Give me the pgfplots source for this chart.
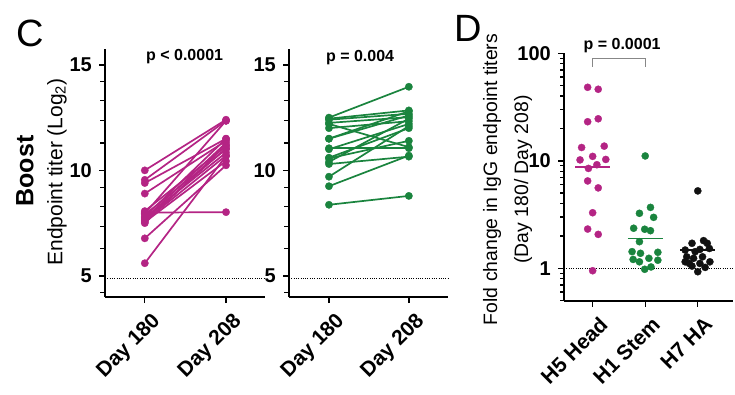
\documentclass[border=0pt]{standalone}
\usepackage{pgfplots}
\pgfplotsset{compat=1.18}
\usepackage{fontspec}
\setmainfont{Liberation Sans}
\definecolor{cpink}{RGB}{180,36,132}
\definecolor{cgreen}{RGB}{26,132,62}
\definecolor{cblack}{RGB}{17,17,17}
\definecolor{cbrack}{RGB}{135,135,135}
\begin{document}
\begin{tikzpicture}[x=1pt,y=1pt]
\path[use as bounding box] (0,0) rectangle (735,394);
\pgfplotsset{
  cstyle/.style={
    scale only axis,
    axis lines=left,
    axis line style={-, line width=1.7pt},
    tick align=outside,
    major tick length=6pt,
    minor tick length=5pt,
    every tick/.style={line width=1.4pt, black},
    every minor tick/.style={line width=1.4pt, black},
    y tick label style={font=\fontsize{20}{22}\selectfont\bfseries, inner sep=1pt, xshift=-6pt},
    x tick label style={rotate=45, anchor=north east, font=\fontsize{21}{23}\selectfont\bfseries, inner sep=1pt, yshift=-9pt, xshift=-1pt},
    /pgf/number format/assume math mode=true,
    clip=false,
  },
  pinkline/.style={cpink, line width=1.7pt, mark=*, mark size=3.7pt, mark options={solid, fill=cpink, draw=cpink, line width=0.3pt}},
  greenline/.style={cgreen, line width=1.7pt, mark=*, mark size=3.7pt, mark options={solid, fill=cgreen, draw=cgreen, line width=0.3pt}},
  dotline/.style={black, line width=1pt, dash pattern=on 1pt off 1.3pt},
  dots/.style={only marks, mark=*, mark size=3.6pt, color=#1, mark options={solid, fill=#1, draw=#1, line width=0.3pt}},
}
% Panel labels and titles
\node[anchor=base west, font=\fontsize{38}{40}\selectfont] at (13,347) {C};
\node[anchor=base west, font=\fontsize{38}{40}\selectfont] at (451,352) {D};
\node[rotate=90, font=\fontsize{25}{28}\selectfont\bfseries] at (25,223) {Boost};
\node[rotate=90, font=\fontsize{21}{24}\selectfont] at (57,222) {Endpoint titer (Log\textsubscript{2})};
\node[rotate=90, align=center, font=\fontsize{19.4}{31}\selectfont] at (507.5,214.5) {Fold change in IgG endpoint titers\\(Day 180/ Day 208)};

% Panel C left (pink)
\begin{axis}[cstyle, at={(105pt,97pt)}, anchor=south west, width=160pt, height=248pt,
  xmin=-0.49, xmax=1.48, ymin=4, ymax=15.75,
  xtick={0,1}, xticklabels={Day 180, Day 208},
  ytick={5,10,15}, minor ytick={4.2,6.3,7.35,8.3,9.2,11.3,12.35,13.3,14.2}]
\addplot[dotline] coordinates {(-0.49,4.9) (1.48,4.9)};
\addplot[pinkline] coordinates {(0,10.0) (1,12.4)};
\addplot[pinkline] coordinates {(0,9.55) (1,12.35)};
\addplot[pinkline] coordinates {(0,9.4) (1,11.5)};
\addplot[pinkline] coordinates {(0,8.9) (1,11.4)};
\addplot[pinkline] coordinates {(0,8.07) (1,11.15)};
\addplot[pinkline] coordinates {(0,8.0) (1,8.02)};
\addplot[pinkline] coordinates {(0,7.95) (1,12.35)};
\addplot[pinkline] coordinates {(0,7.9) (1,11.0)};
\addplot[pinkline] coordinates {(0,7.8) (1,11.5)};
\addplot[pinkline] coordinates {(0,7.75) (1,10.84)};
\addplot[pinkline] coordinates {(0,7.7) (1,11.3)};
\addplot[pinkline] coordinates {(0,7.6) (1,10.7)};
\addplot[pinkline] coordinates {(0,7.55) (1,10.44)};
\addplot[pinkline] coordinates {(0,7.5) (1,11.2)};
\addplot[pinkline] coordinates {(0,6.78) (1,10.24)};
\addplot[pinkline] coordinates {(0,5.6) (1,10.68)};
\addplot[pinkline] coordinates {(0,7.65) (1,11.05)};
\node[font=\fontsize{16}{18}\selectfont\bfseries] at (axis cs:0.49,15.38) {p < 0.0001};
\end{axis}

% Panel C right (green)
\begin{axis}[cstyle, at={(289pt,97pt)}, anchor=south west, width=159pt, height=248pt,
  xmin=-0.5, xmax=1.49, ymin=4, ymax=15.75,
  xtick={0,1}, xticklabels={Day 180, Day 208},
  ytick={5,10,15}, minor ytick={4.2,6.3,7.35,8.3,9.2,11.3,12.35,13.3,14.2}]
\addplot[dotline] coordinates {(-0.5,4.9) (1.49,4.9)};
\addplot[greenline] coordinates {(0,12.5) (1,13.96)};
\addplot[greenline] coordinates {(0,12.45) (1,12.84)};
\addplot[greenline] coordinates {(0,12.4) (1,12.68)};
\addplot[greenline] coordinates {(0,12.25) (1,12.52)};
\addplot[greenline] coordinates {(0,12.0) (1,12.33)};
\addplot[greenline] coordinates {(0,11.5) (1,12.6)};
\addplot[greenline] coordinates {(0,11.05) (1,11.05)};
\addplot[greenline] coordinates {(0,11.0) (1,12.2)};
\addplot[greenline] coordinates {(0,10.57) (1,11.4)};
\addplot[greenline] coordinates {(0,10.4) (1,12.45)};
\addplot[greenline] coordinates {(0,10.3) (1,10.65)};
\addplot[greenline] coordinates {(0,9.7) (1,12.1)};
\addplot[greenline] coordinates {(0,9.25) (1,10.7)};
\addplot[greenline] coordinates {(0,8.37) (1,8.79)};
\addplot[greenline] coordinates {(0,12.2) (1,11.1)};
\addplot[greenline] coordinates {(0,10.6) (1,12.0)};
\addplot[greenline] coordinates {(0,11.5) (1,12.8)};
\node[font=\fontsize{16}{18}\selectfont\bfseries] at (axis cs:0.39,15.33) {p = 0.004};
\end{axis}

% Panel D
\begin{axis}[cstyle, ymode=log, at={(564pt,93.3pt)}, anchor=south west, width=169pt, height=247.4pt,
  xmin=-0.545, xmax=2.67, ymin=0.5, ymax=100,
  xtick={0,1,2}, xticklabels={H5 Head, H1 Stem, H7 HA},
  ytick={1,10,100}, yticklabels={1,10,100},
  minor ytick={0.5,0.6,0.7,0.8,0.9,2,3,4,5,6,7,8,9,20,30,40,50,60,70,80,90},
  minor tick length=4pt]
\addplot[dotline] coordinates {(-0.545,1) (2.67,1)};
\addplot[dots=cpink] coordinates {
(-0.095,48.3) (0.106,46.3) (-0.095,23.1) (0.106,24.6) (-0.21,13.3) (0.22,13.7)
(-0.24,10.2) (0,11.0) (0.25,10.3) (0.08,9.2) (-0.08,8.5) (-0.095,6.5)
(0.106,5.6) (0,3.29) (-0.095,2.32) (0.106,2.07) (0,0.95)};
\addplot[cpink, line width=1.7pt] coordinates {(-0.33,8.8) (0.33,8.8)};
\addplot[dots=cgreen] coordinates {
(1,11.1) (1.1,3.69) (0.89,3.25) (1.16,2.98) (0.78,2.36) (0.99,2.31) (1.1,2.24)
(0.89,1.77) (0.75,1.43) (0.91,1.38) (1.24,1.41) (1.07,1.24) (0.77,1.21)
(1.24,1.19) (0.89,1.15) (1.11,1.03) (0.99,0.98)};
\addplot[cgreen, line width=1.7pt] coordinates {(0.67,1.89) (1.33,1.89)};
\addplot[dots=cblack] coordinates {
(2,5.25) (1.76,1.48) (1.89,1.71) (2.11,1.81) (2.22,1.53) (2.04,1.50) (1.95,1.43)
(1.79,1.28) (1.92,1.24) (2.09,1.28) (2.23,1.15) (1.76,1.15) (2.04,1.11)
(1.89,1.05) (2.14,1.02) (2,0.93) (1.84,1.11) (2.18,1.71)};
\addplot[cblack, line width=1.7pt] coordinates {(1.67,1.48) (2.33,1.48)};
\addplot[cbrack, line width=1.3pt] coordinates {(0,75) (0,89.8) (1,89.8) (1,75)};
\node[font=\fontsize{16}{18}\selectfont\bfseries] at (axis cs:0.56,119) {p = 0.0001};
\end{axis}
\end{tikzpicture}
\end{document}
